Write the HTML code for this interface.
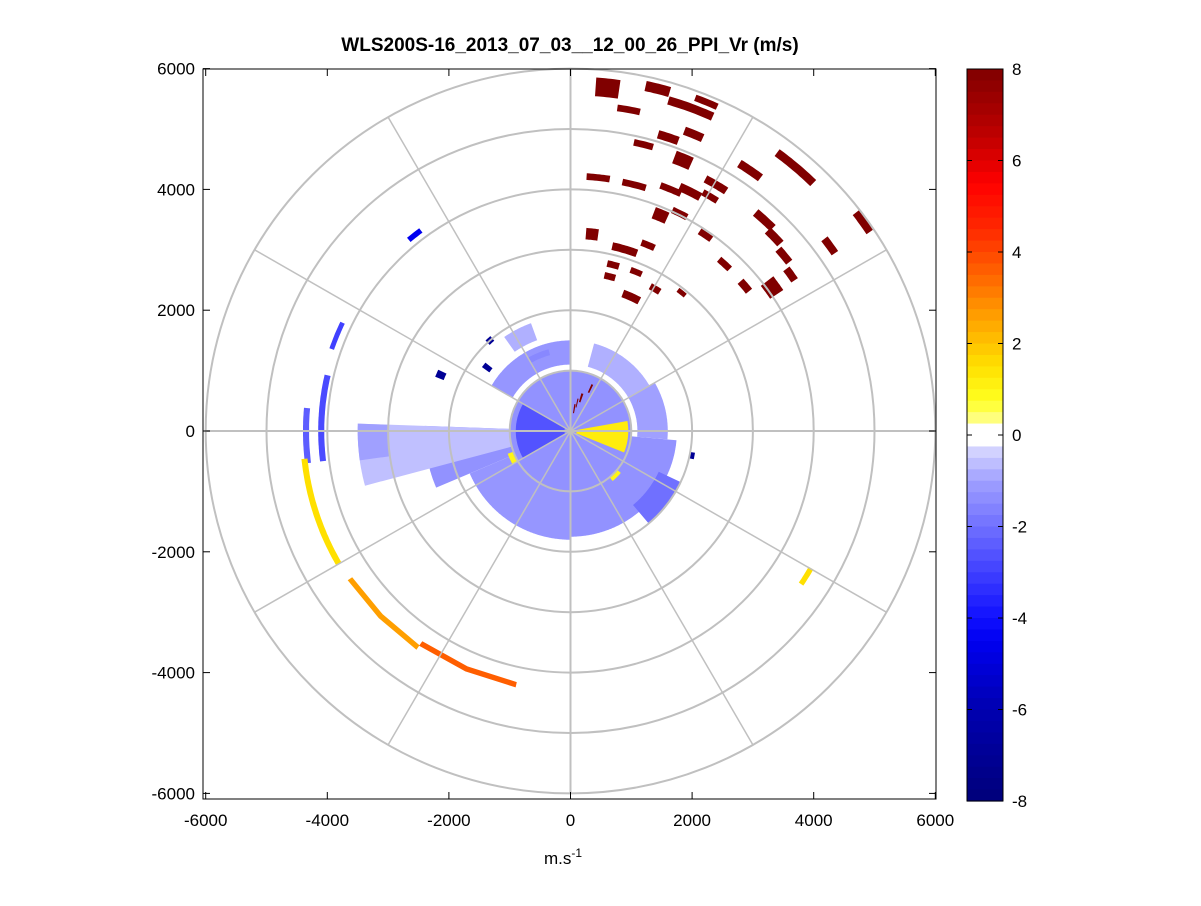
<!DOCTYPE html>
<html><head><meta charset="utf-8"><style>
body{margin:0;background:#fff;}
svg text{font-family:"Liberation Sans",sans-serif;}
</style></head><body>
<svg id="chart" width="1201" height="901" xmlns="http://www.w3.org/2000/svg">
<rect x="0" y="0" width="1201" height="901" fill="#fff"/>
<text x="570" y="51" font-size="19" font-weight="bold" text-anchor="middle">WLS200S-16_2013_07_03__12_00_26_PPI_Vr (m/s)</text>
<rect x="203" y="69" width="733" height="730" fill="#fff"/>
<g id="data"></g>
<g id="grid"></g>
<g id="axes"></g>
<g id="cbar"></g>
<text x="563" y="864" font-size="17" text-anchor="middle">m.s<tspan dy="-7" font-size="12">-1</tspan></text>
</svg>
<script>
// far-range blocks: azimuth(deg), range(m), angular width(deg), radial thickness(m), value
const blkAz=[6.1,14.2,22.3,20.3,10.2,18.3,22.4,14.2,22.4,40.3,34.4,30.4,6.2,14.4,22.4,26.4,30.6,54.3,42.4,22.5,26.5,6.2,16.5,22.5,34.4,46.2,54.3,50.4,42.5,54.4,14.3,22.3,14.2,50.1,54.4,24.2,30.6,38.6,321.7,292.3,121.8];
const blkR=[5713,5844,5886,5705,5405,5119,5314,4892,4848,5726,5227,4727,4220,4210,4326,4423,4511,5923,4728,3864,4025,3277,3137,3331,3929,4642,5251,4555,3749,4451,2838,2845,2636,3738,4076,2434,2732,2930,4133,4155,4561];
const blkW=[3.9,4.0,3.8,7.8,4.0,3.9,3.5,3.8,3.5,7.8,4.6,4.8,5.2,5.4,4.8,4.9,3.5,3.8,4.6,3.5,3.8,3.5,7.7,4,3.4,3.7,3.2,3.5,3.6,3,4,4,4,3.3,3.8,7,3.8,3,3.5,6.5,3.9];
const blkT=[310,170,110,140,110,140,140,110,220,140,140,130,110,110,110,140,110,130,140,200,110,190,130,110,110,140,130,130,110,130,110,100,110,130,260,130,110,80,90,80,90];
const blkV=[8,8,8,8,8,8,8,8,8,8,8,8,8,8,8,8,8,8,8,8,8,8,8,8,8,8,8,8,8,8,8,8,8,8,8,8,8,8,-4.5,-3,1.5];
// sectors: az start, az end, r start, r end, value
const secAz0=[0,240,300,325,15,60,95,180,115,247,255,262,263,263,240,236,215,292,306,317,100,240,130,80,8,16,24,12,330];
const secAz1=[360,300,360,340,60,95,180,247,140,272,272,272,283,275,264,215,192,295,309,320,103,250,140,112,11,19,26,14,345];
const secR0=[0,100,1100,1600,1100,1100,1000,1000,1600,1000,1000,3000,4050,4300,4350,4330,4250,2250,1650,1950,2000,1000,1000,100,300,500,700,400,1300];
const secR1=[1000,900,1500,1900,1500,1600,1750,1800,2000,2400,3500,3500,4150,4400,4450,4420,4340,2400,1800,2050,2080,1100,1080,950,450,650,850,550,1400];
const secV=[-1.3,-2.6,-1.2,-0.8,-0.8,-1,-1.3,-1.2,-2,-1.3,-0.6,-1,-2.8,-2.4,1.5,2.6,3.6,-7,-7,-7,-7,1,1,1.2,8,8,8,8,-1.5];
const cbTicks=[8,6,4,2,0,-2,-4,-6,-8];
const xTicks=[-6000,-4000,-2000,0,2000,4000,6000];
const yTicks=[6000,4000,2000,0,-2000,-4000,-6000];
const rings=[1000,2000,3000,4000,5000,6000];
const spokes=[0,30,60,90,120,150,180,210,240,270,300,330];

const CX=570.5,CY=431,SX=0.0608,SY=0.0604;
const NS="http://www.w3.org/2000/svg";
const px=x=>CX+x*SX, py=y=>CY-y*SY;
const stops=[[-8,[0,0,122]],[-6,[0,0,176]],[-4.5,[0,0,240]],[-4,[16,16,255]],[-3,[64,64,255]],[-2,[112,112,255]],[-1,[160,160,255]],[-0.25,[220,220,255]],[0,[255,255,255]],[0.25,[255,255,154]],[0.75,[255,255,32]],[1.5,[255,224,0]],[2.5,[255,165,0]],[3.5,[255,100,0]],[4.5,[255,40,0]],[5.5,[255,0,0]],[6.5,[192,0,0]],[8,[128,0,0]]];
function cmap(v){v=Math.max(-8,Math.min(8,v));for(let i=0;i<stops.length-1;i++){const a=stops[i],b=stops[i+1];if(v<=b[0]){const t=(v-a[0])/(b[0]-a[0]);const c=a[1].map((x,k)=>Math.round(x+(b[1][k]-x)*t));return `rgb(${c})`;}}return 'rgb(128,0,0)';}
function pt(az,r){const a=az*Math.PI/180;return [px(r*Math.sin(a)),py(r*Math.cos(a))];}
function sector(a0,a1,r0,r1){const p=[];const n=Math.max(2,Math.ceil((a1-a0)/0.5));for(let i=0;i<=n;i++)p.push(pt(a0+(a1-a0)*i/n,r1));for(let i=n;i>=0;i--)p.push(pt(a0+(a1-a0)*i/n,r0));return 'M'+p.map(q=>q[0].toFixed(1)+','+q[1].toFixed(1)).join('L')+'Z';}
function el(tag,attrs,parent){const e=document.createElementNS(NS,tag);for(const k in attrs)e.setAttribute(k,attrs[k]);parent.appendChild(e);return e;}
const gd=document.getElementById('data');
for(let i=0;i<secV.length;i++){const e=el('path',{d:sector(secAz0[i],secAz1[i],secR0[i],secR1[i]),fill:cmap(secV[i])},gd);

}
for(let i=0;i<blkV.length;i++){const e=el('path',{d:sector(blkAz[i]-blkW[i]/2,blkAz[i]+blkW[i]/2,blkR[i]-blkT[i]/2,blkR[i]+blkT[i]/2),fill:cmap(blkV[i])},gd);

}
const gg=document.getElementById('grid');
rings.forEach(r=>{const e=el('ellipse',{cx:CX,cy:CY,rx:r*SX,ry:r*SY,fill:'none',stroke:'#c0c0c0','stroke-width':2},gg);

});
spokes.forEach(a=>{const p=pt(a,6000);const e=el('line',{x1:CX,y1:CY,x2:p[0],y2:p[1],stroke:'#c0c0c0','stroke-width':a%90===0?2:1.5},gg);

});
const ga=document.getElementById('axes');
const fr=el('rect',{x:203,y:69,width:733,height:730,fill:'none',stroke:'#000','stroke-width':1},ga);


xTicks.forEach(v=>{const x=px(v);el('line',{x1:x,y1:799,x2:x,y2:792,stroke:'#000'},ga);el('line',{x1:x,y1:69,x2:x,y2:76,stroke:'#000'},ga);
const t=el('text',{x:x,y:826,'font-size':17,'text-anchor':'middle'},ga);t.textContent=v;

});
yTicks.forEach(v=>{const y=py(v);el('line',{x1:203,y1:y,x2:210,y2:y,stroke:'#000'},ga);el('line',{x1:936,y1:y,x2:929,y2:y,stroke:'#000'},ga);
const t=el('text',{x:195,y:y+6,'font-size':17,'text-anchor':'end'},ga);t.textContent=v;

});
const gc=document.getElementById('cbar');
const CB0=69,CB1=801,CBX=967,CBW=36;const cy=v=>CB0+(8-v)/16*(CB1-CB0);
for(let i=0;i<64;i++){const v0=8-i*0.25,v1=v0-0.25;const vm=(v0+v1)/2;const c=Math.abs(vm)<0.2?'#fff':cmap(vm);
const e=el('rect',{x:CBX,y:cy(v0),width:CBW,height:cy(v1)-cy(v0)+0.6,fill:c},gc);

}
const cf=el('rect',{x:CBX,y:CB0,width:CBW,height:CB1-CB0,fill:'none',stroke:'#000'},gc);


cbTicks.forEach(v=>{const y=cy(v);el('line',{x1:CBX,y1:y,x2:CBX+5,y2:y,stroke:'#000'},gc);el('line',{x1:CBX+CBW,y1:y,x2:CBX+CBW-5,y2:y,stroke:'#000'},gc);
const t=el('text',{x:1012,y:y+6,'font-size':17},gc);t.textContent=v;

});
</script>
</body></html>
